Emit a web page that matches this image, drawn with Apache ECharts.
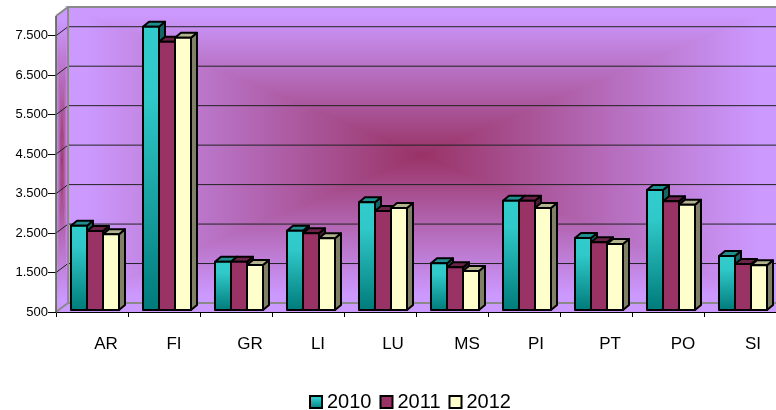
<!DOCTYPE html>
<html><head><meta charset="utf-8">
<style>html,body{margin:0;padding:0;background:#fff}#c{width:776px;height:410px}</style>
<script src="https://cdn.jsdelivr.net/npm/echarts@6/dist/echarts.min.js"></script>
</head><body><div id="c"></div>
<script>
const categories = ['AR','FI','GR','LI','LU','MS','PI','PT','PO','SI'];
const years = ['2010','2011','2012'];
const values2010 = [2636,7678,1724,2509,3228,1683,3269,2324,3540,1868];
const values2011 = [2501,7297,1724,2443,3008,1582,3269,2215,3253,1665];
const values2012 = [2418,7397,1640,2316,3084,1488,3084,2172,3168,1632];
const yTicks = [500,1500,2500,3500,4500,5500,6500,7500];
const labelNudge = [1,-3,1,-3,0,2,-1,1,2,0];

const DX = 12, DY = -9;
const PURPLE = '#CC99FF', MAROON = '#993366';
const fmt = v => v < 1000 ? String(v) : String(v).replace(/(\d)(\d{3})$/, '$1.$2');
const palettes = [
  {front:{type:'linear',x:0,y:0,x2:0,y2:1,colorStops:[{offset:0,color:'#33CCCC'},{offset:0.25,color:'#30C8C8'},{offset:1,color:'#007A7A'}]},side:'#146666',top:'#1F8F8F'},
  {front:'#993366',side:'#4D1A33',top:'#6B2447'},
  {front:'#FFFFCC',side:'#808066',top:'#B3B38F'}
];

// gradient running from an edge position to the centre, in global coordinates
function ramp(x, y, x2, y2){
  return {type:'linear',x,y,x2,y2,global:true,colorStops:[
    {offset:0,color:PURPLE},{offset:0.05,color:PURPLE},{offset:1,color:MAROON}]};
}
function pyramid(corners, cx, cy, l, r, t, b, seam){
  // corners: top-left, top-right, bottom-right, bottom-left
  const [tl,tr,br,bl] = corners, ctr = [cx,cy];
  const tri = (a,c,g) => ({type:'polygon',shape:{points:[a,c,ctr]},style:{fill:g,stroke:g,lineWidth:seam}});
  return [
    tri(tl,tr,ramp(cx,t,cx,cy)),
    tri(bl,br,ramp(cx,b,cx,cy)),
    tri(tl,bl,ramp(l,cy,cx,cy)),
    tri(tr,br,ramp(r,cy,cx,cy))
  ];
}

function wallItem(params, api){
  const c = params.coordSys;
  const L = c.x, R = c.x + c.width, T = c.y, B = c.y + c.height;
  const bx = L + DX;
  let kids = [];
  kids = kids.concat(pyramid([[bx,T+DY],[R,T+DY],[R,B+DY],[bx,B+DY]],(bx+R)/2,T+DY+(B-T)/2,bx,R,T+DY,B+DY,1.5));
  kids = kids.concat(pyramid([[L,T],[bx,T+DY],[bx,B+DY],[L,B]],L+DX/2,T+DY/2+(B-T)/2,L,bx,T+DY/2,B+DY/2,0.5));
  kids.push({type:'polygon',shape:{points:[[L,B],[bx,B+DY],[R,B+DY],[R,B]]},style:{fill:PURPLE}});
  yTicks.forEach(v=>{
    if(v===yTicks[0]) return;
    const y = api.coord([0,v])[1];
    kids.push({type:'polyline',shape:{points:[[L,y],[bx,y+DY],[R,y+DY]]},style:{fill:null,stroke:'#222',lineWidth:1}});
  });
  kids.push({type:'polyline',shape:{points:[[L,T],[bx,T+DY],[R,T+DY]]},style:{fill:null,stroke:'#8A8A8A',lineWidth:2}});
  kids.push({type:'polyline',shape:{points:[[L,B],[bx,B+DY],[R,B+DY]]},style:{fill:null,stroke:'#8A8A8A',lineWidth:2}});
  kids.push({type:'line',shape:{x1:bx,y1:T+DY,x2:bx,y2:B+DY},style:{stroke:'#8A8A8A',lineWidth:2}});
  kids.push({type:'line',shape:{x1:L,y1:T,x2:L,y2:B},style:{stroke:'#555',lineWidth:1.5}});
  return {type:'group',children:kids};
}

function barItem(idx){
  return function(params, api){
    const cat = api.value(0), v = api.value(1);
    const band = api.size([1,0])[0];
    const w = band * 16 / 72;
    const p = api.coord([cat, v]), b = api.coord([cat, yTicks[0]]);
    const x0 = p[0] + 3 + (idx - 1.5) * w, x1 = x0 + w;
    const yT = p[1] - 2, yB = b[1] - 2;
    const dx = 6, dy = -5;
    const pal = palettes[idx];
    const st = f => ({fill:f,stroke:'#000',lineWidth:2,lineJoin:'round'});
    return {type:'group',children:[
      {type:'polygon',shape:{points:[[x1,yT],[x1+dx,yT+dy],[x1+dx,yB+dy],[x1,yB]]},style:st(pal.side)},
      {type:'polygon',shape:{points:[[x0,yT],[x0+dx,yT+dy],[x1+dx,yT+dy],[x1,yT]]},style:st(pal.top)},
      {type:'rect',shape:{x:x0,y:yT,width:w,height:yB-yT},style:st(pal.front)}
    ]};
  };
}

const seriesValues = [values2010, values2011, values2012];
const chart = echarts.init(document.getElementById('c'), null, {renderer:'canvas'});
chart.setOption({
  animation:false,
  backgroundColor:'#fff',
  grid:{left:56,right:0,top:16,bottom:98},
  legend:{data:years,left:304,top:387,itemWidth:12,itemHeight:12,itemGap:8,icon:'rect',
    textStyle:{fontFamily:'Liberation Sans',fontSize:20,color:'#000'}},
  xAxis:{type:'category',
    data:categories.map((c,i)=>({value:c,textStyle:{padding:[0,0,0,26+2*labelNudge[i]]}})),
    boundaryGap:true,
    axisLine:{lineStyle:{color:'#000',width:1}},
    axisTick:{show:true,length:5,lineStyle:{color:'#000'},alignWithLabel:false},
    axisLabel:{fontFamily:'Liberation Sans',fontSize:17,color:'#000',margin:24,padding:[0,0,0,26],interval:0},
    splitLine:{show:false}},
  yAxis:{type:'value',min:500,max:8000,interval:500,
    axisLine:{show:false},
    axisTick:{show:true,length:8,customValues:yTicks,lineStyle:{color:'#000'}},
    axisLabel:{fontFamily:'Liberation Sans',fontSize:13,color:'#000',margin:8,customValues:yTicks,formatter:fmt},
    splitLine:{show:false}},
  series:[
    {type:'custom',name:'walls',silent:true,clip:false,z:1,data:[[0,500]],encode:{x:0,y:1},renderItem:wallItem},
    ...years.map((y,i)=>({type:'custom',name:y,clip:false,z:3,
      encode:{x:0,y:1},
      itemStyle:{color:palettes[i].front,borderColor:'#000',borderWidth:1.5},
      data:seriesValues[i].map((v,k)=>[k,v]),
      renderItem:barItem(i)}))
  ]
});
</script></body></html>
